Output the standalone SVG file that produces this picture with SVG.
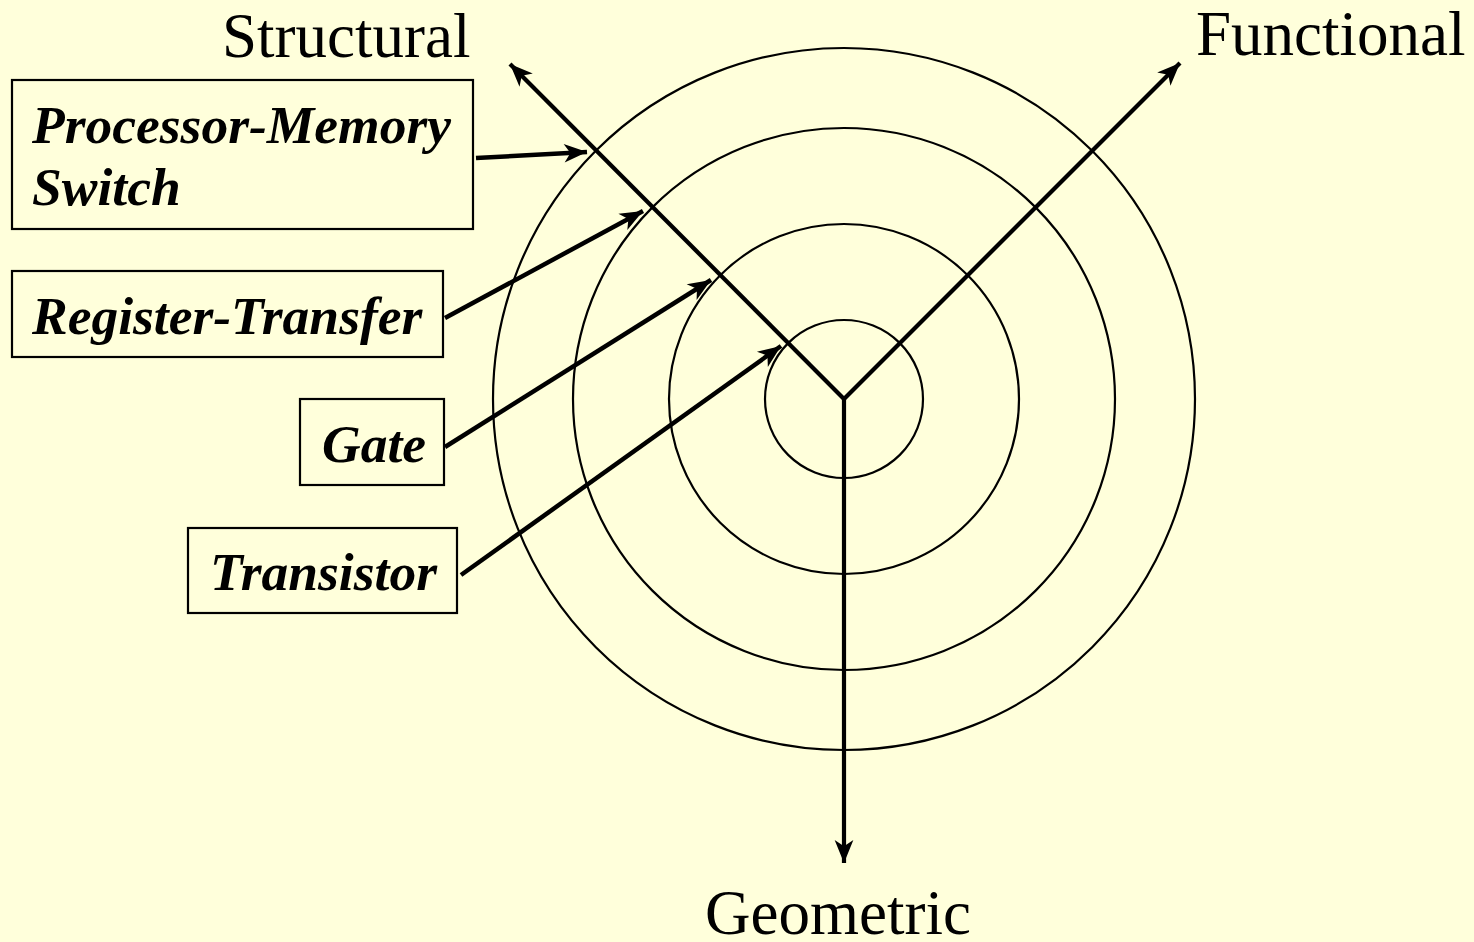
<svg xmlns="http://www.w3.org/2000/svg" width="1474" height="942" viewBox="0 0 1474 942">
<defs>
<style>
.ring{fill:none;stroke:#000;stroke-width:2.2}
.axis{fill:none;stroke:#000;stroke-width:4.2}
.conn{fill:none;stroke:#000;stroke-width:4.5}
.box{fill:none;stroke:#000;stroke-width:2.2}
.lbl{font-family:"Liberation Serif","Times New Roman",serif;font-size:53.5px;font-weight:bold;font-style:italic;fill:#000}
.ax{font-family:"Liberation Serif","Times New Roman",serif;font-size:63px;fill:#000}
</style>
<marker id="ah" markerUnits="userSpaceOnUse" markerWidth="26" markerHeight="22" viewBox="-23 -10 25 20" refX="0" refY="0" orient="auto">
<path d="M0,0 L-22,-9 L-16,0 L-22,9 Z" fill="#000"/>
</marker>
</defs>
<rect width="1474" height="942" fill="#FFFFDB"/>
<g id="rings">
<circle class="ring" cx="844" cy="399" r="79"/>
<circle class="ring" cx="844" cy="399" r="175"/>
<circle class="ring" cx="844" cy="399" r="271"/>
<circle class="ring" cx="844" cy="399" r="351"/>
</g>
<g id="axes">
<path class="axis" d="M844,399 L510,64" marker-end="url(#ah)"/>
<path class="axis" d="M844,399 L1180,63" marker-end="url(#ah)"/>
<path class="axis" d="M844,399 L844,863" marker-end="url(#ah)"/>
<text class="ax" x="222" y="57">Structural</text>
<text class="ax" x="1196" y="55">Functional</text>
<text class="ax" x="705" y="934">Geometric</text>
</g>
<g id="connectors">
<path class="conn" d="M476,158 L587,152" marker-end="url(#ah)"/>
<path class="conn" d="M445,318 L643,211" marker-end="url(#ah)"/>
<path class="conn" d="M445,447 L711,280" marker-end="url(#ah)"/>
<path class="conn" d="M461,575 L781,346" marker-end="url(#ah)"/>
</g>
<g id="node-pms">
<rect class="box" x="12" y="80" width="461" height="149"/>
<text class="lbl" x="32" y="143">Processor-Memory</text>
<text class="lbl" x="32" y="205">Switch</text>
</g>
<g id="node-rt">
<rect class="box" x="12" y="271" width="431" height="86"/>
<text class="lbl" x="32" y="334">Register-Transfer</text>
</g>
<g id="node-gate">
<rect class="box" x="300" y="399" width="144" height="86"/>
<text class="lbl" x="322" y="462">Gate</text>
</g>
<g id="node-transistor">
<rect class="box" x="188" y="528" width="269" height="85"/>
<text class="lbl" x="210" y="590">Transistor</text>
</g>
</svg>
